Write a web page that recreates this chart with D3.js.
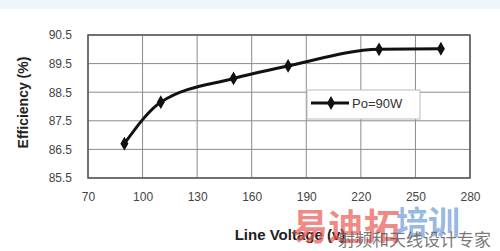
<!DOCTYPE html>
<html>
<head>
<meta charset="utf-8">
<script src="https://cdn.jsdelivr.net/npm/d3@7"></script>
<style>
  body { margin: 0; background: #fff; }
  svg { display: block; }
</style>
</head>
<body>
<script>
// données
const VOLTAGE = [90, 110, 150, 180, 230, 264]
const EFFICIENCY = [86.7, 88.15, 88.98, 89.42, 90.0, 90.02]
const X_TICKS = [70, 100, 130, 160, 190, 220, 250, 280]
const Y_TICKS = [85.5, 86.5, 87.5, 88.5, 89.5, 90.5]
const SERIES_NAME = 'Po=90W'

const WIDTH = 500
const HEIGHT = 251
const PLOT = { left: 88, right: 470, top: 35, bottom: 178 }

const svg = d3.select('body')
  .append('svg')
  .attr('width', WIDTH)
  .attr('height', HEIGHT)

// bande claire en haut
svg.append('rect')
  .attr('x', 0).attr('y', 0)
  .attr('width', WIDTH).attr('height', 9)
  .attr('fill', '#eef5fb')

const x = d3.scaleLinear().domain([70, 280]).range([PLOT.left, PLOT.right])
const y = d3.scaleLinear().domain([85.5, 90.5]).range([PLOT.bottom, PLOT.top])

// grille
const grid = svg.append('g').attr('stroke', '#8a8a8a').attr('stroke-width', 1)
grid.selectAll('.vx')
  .data(X_TICKS)
  .join('line')
  .attr('x1', d => x(d)).attr('x2', d => x(d))
  .attr('y1', PLOT.top).attr('y2', PLOT.bottom)
grid.selectAll('.hy')
  .data(Y_TICKS)
  .join('line')
  .attr('x1', PLOT.left).attr('x2', PLOT.right)
  .attr('y1', d => y(d)).attr('y2', d => y(d))

// cadre
svg.append('rect')
  .attr('x', PLOT.left).attr('y', PLOT.top)
  .attr('width', PLOT.right - PLOT.left)
  .attr('height', PLOT.bottom - PLOT.top)
  .attr('fill', 'none')
  .attr('stroke', '#555')
  .attr('stroke-width', 1.5)

// axes (étiquettes seulement)
const xAxis = svg.append('g')
  .attr('transform', `translate(0,${PLOT.bottom + 14})`)
  .call(d3.axisBottom(x).tickValues(X_TICKS).tickSize(0).tickPadding(0))
xAxis.select('.domain').remove()
xAxis.selectAll('text')
  .attr('font-family', 'Liberation Sans, Arial, sans-serif')
  .attr('font-size', 12)
  .attr('fill', '#444')

const yAxis = svg.append('g')
  .attr('transform', `translate(${PLOT.left - 16},0)`)
  .call(d3.axisLeft(y).tickValues(Y_TICKS).tickFormat(d3.format('.1f')).tickSize(0).tickPadding(0))
yAxis.select('.domain').remove()
yAxis.selectAll('text')
  .attr('font-family', 'Liberation Sans, Arial, sans-serif')
  .attr('font-size', 12)
  .attr('fill', '#444')

// courbe lissée
const points = VOLTAGE.map((v, i) => [v, EFFICIENCY[i]])
const line = d3.line()
  .x(d => x(d[0]))
  .y(d => y(d[1]))
  .curve(d3.curveMonotoneX)

svg.append('path')
  .datum(points)
  .attr('d', line)
  .attr('fill', 'none')
  .attr('stroke', '#111')
  .attr('stroke-width', 3)

const diamond = d3.symbol().type(d3.symbolDiamond).size(55)
svg.selectAll('.pt')
  .data(points)
  .join('path')
  .attr('transform', d => `translate(${x(d[0])},${y(d[1])})`)
  .attr('d', diamond)
  .attr('fill', '#111')

// légende
const legend = svg.append('g').attr('transform', 'translate(307,90)')
legend.append('rect')
  .attr('width', 113).attr('height', 29)
  .attr('fill', '#fff')
  .attr('stroke', '#bbb')
legend.append('line')
  .attr('x1', 4).attr('x2', 42)
  .attr('y1', 13).attr('y2', 13)
  .attr('stroke', '#111').attr('stroke-width', 3)
legend.append('path')
  .attr('transform', 'translate(24,13)')
  .attr('d', diamond)
  .attr('fill', '#111')
legend.append('text')
  .attr('x', 45).attr('y', 17.5)
  .attr('font-family', 'Liberation Sans, Arial, sans-serif')
  .attr('font-size', 13)
  .attr('fill', '#333')
  .text(SERIES_NAME)

// titres des axes
svg.append('text')
  .attr('transform', `translate(28,${(PLOT.top + PLOT.bottom) / 2 - 4}) rotate(-90)`)
  .attr('text-anchor', 'middle')
  .attr('font-family', 'Liberation Sans, Arial, sans-serif')
  .attr('font-weight', 'bold')
  .attr('font-size', 14)
  .attr('fill', '#222')
  .text('Efficiency (%)')

svg.append('text')
  .attr('x', 290).attr('y', 240)
  .attr('text-anchor', 'middle')
  .attr('font-family', 'Liberation Sans, Arial, sans-serif')
  .attr('font-weight', 'bold')
  .attr('font-size', 15)
  .attr('fill', '#222')
  .text('Line Voltage (v)')

// filigrane
svg.append('text')
  .attr('x', 292).attr('y', 240)
  .attr('font-family', 'Noto Sans CJK SC')
  .attr('font-weight', 'bold')
  .attr('font-size', 36)
  .attr('fill', '#e8554f')
  .attr('fill-opacity', 0.7)
  .text('易迪拓')
svg.append('text')
  .attr('x', 396).attr('y', 234)
  .attr('font-family', 'Noto Sans CJK SC')
  .attr('font-weight', 'bold')
  .attr('font-size', 32)
  .attr('fill', '#5b8fd0')
  .attr('fill-opacity', 0.65)
  .text('培训')
svg.append('text')
  .attr('x', 338).attr('y', 246)
  .attr('font-family', 'Noto Sans CJK SC')
  .attr('font-size', 17)
  .attr('fill', '#555')
  .attr('fill-opacity', 0.8)
  .text('射频和天线设计专家')
</script>
</body>
</html>
